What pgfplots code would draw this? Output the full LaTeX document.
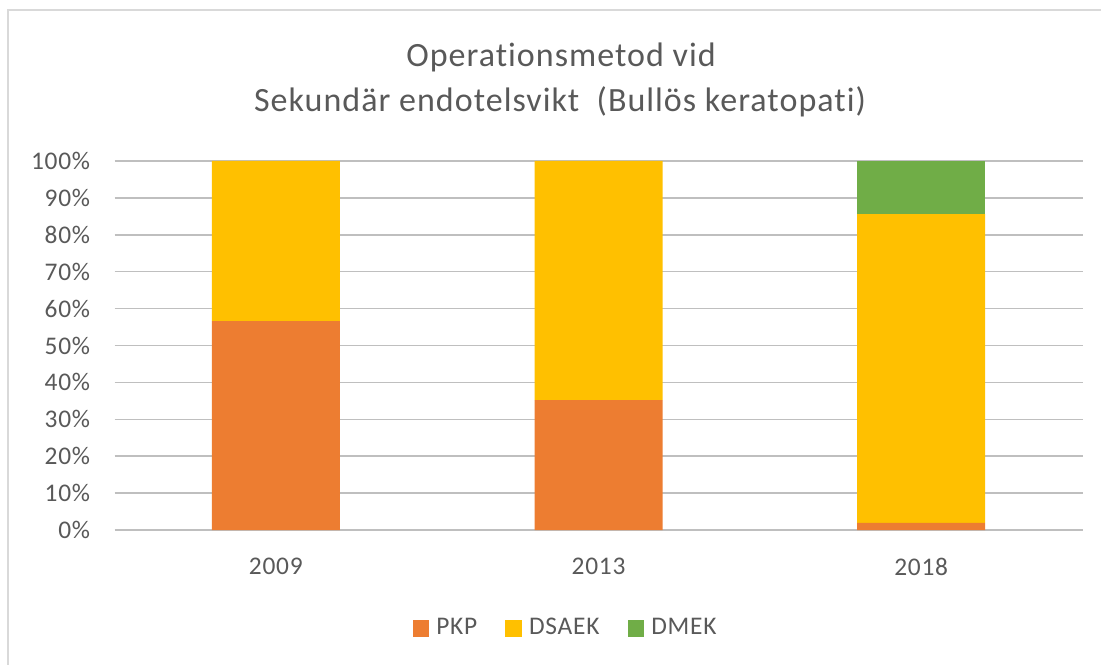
\documentclass[border=0pt]{standalone}
\usepackage{fontspec}
\setmainfont{Carlito}[Ligatures={NoCommon}, LetterSpace=3]
\usepackage{pgfplots}
\pgfplotsset{compat=1.18}
\definecolor{pkp}{HTML}{ED7D31}
\definecolor{dsaek}{HTML}{FFC000}
\definecolor{dmek}{HTML}{70AD47}
\definecolor{txt}{HTML}{595959}
\definecolor{grid}{HTML}{D9D9D9}
\begin{document}
\begin{tikzpicture}
\path[use as bounding box] (0,0) rectangle (550.5pt,332pt);
\begin{scope}
\clip (0,0) rectangle (550.5pt,332pt);
\draw[grid, line width=1.2pt] (4pt,-20pt) rectangle (570pt,327pt);
\end{scope}
\node[anchor=base, text=txt, font=\fontsize{17}{20}\selectfont] at (280.5pt,298.5pt) {Operationsmetod vid};
\node[anchor=base, text=txt, font=\fontsize{17}{20}\selectfont] at (280pt,276pt) {Sekundär endotelsvikt\ \ (Bullös keratopati)};
\begin{axis}[
  at={(57.25pt,67pt)}, anchor=south west,
  scale only axis, width=484pt, height=184.5pt,
  ybar stacked, bar width=64pt,
  xmin=-0.5, xmax=2.5, ymin=0, ymax=100,
  xtick={0,1,2}, xticklabels={2009,2013,2018},
  ytick={0,10,...,100},
  yticklabel={\pgfmathprintnumber{\tick}\%},
  /pgf/number format/assume math mode=true,
  axis line style={draw=none},
  major tick length=0pt,
  ymajorgrids, grid style={grid, line width=0.75pt},
  tick label style={text=txt, font=\fontsize{12.7}{14}\selectfont},
  yticklabel style={anchor=east, inner sep=0pt, xshift=-12pt},
  xticklabel style={anchor=north, inner sep=0pt, yshift=-14pt},
  legend columns=3,
  legend style={at={(0.467,-0.266)}, anchor=center, draw=none, fill=none,
    font=\fontsize{12.7}{14}\selectfont, text=txt,
    /tikz/every even column/.append style={column sep=12pt},
    /tikz/every odd column/.append style={column sep=1.5pt}},
  legend image code/.code={\fill[#1] (0pt,-4.2pt) rectangle (8.4pt,4.2pt);},
]
\addplot[fill=pkp, draw=none] coordinates {(0,56.6) (1,35.2) (2,1.9)};
\addplot[fill=dsaek, draw=none] coordinates {(0,43.4) (1,64.8) (2,83.7)};
\addplot[fill=dmek, draw=none] coordinates {(0,0) (1,0) (2,14.4)};
\legend{PKP,DSAEK,DMEK}
\end{axis}
\end{tikzpicture}
\end{document}
